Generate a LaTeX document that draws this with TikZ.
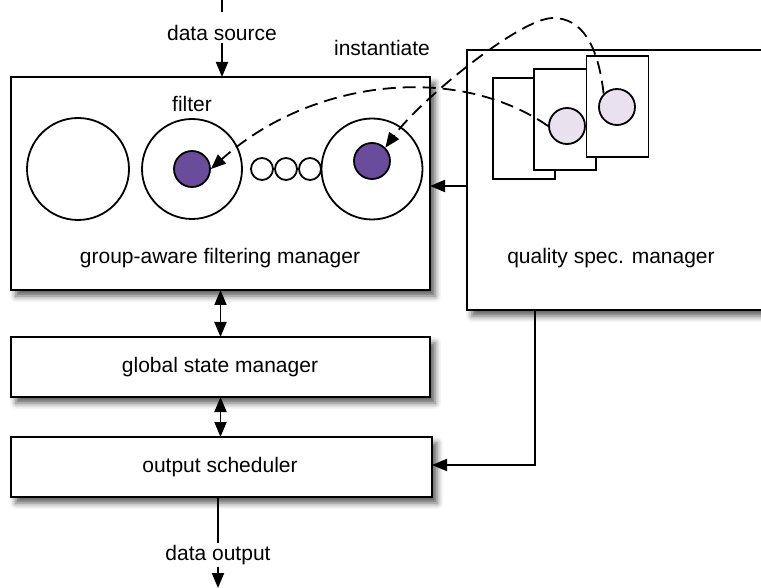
\documentclass[tikz,border=0pt]{standalone}
\usepackage{fontspec}
\setmainfont{Liberation Sans}
\usetikzlibrary{arrows.meta,shadows.blur}
\definecolor{filterpurple}{RGB}{106,76,156}
\definecolor{speclilac}{RGB}{233,225,238}
\begin{document}
\begin{tikzpicture}[x=1pt, y=-1pt, line width=1.8pt,
    every node/.style={font=\fontsize{21}{25}\selectfont},
    box/.style={draw, fill=white, inner sep=0pt, outer sep=0pt,
        blur shadow={shadow xshift=5pt, shadow yshift=-6pt, shadow blur radius=6pt, shadow opacity=65}},
    lbl/.style={inner sep=1pt},
    arr/.style={-{Triangle[length=15pt, width=12pt]}},
    dbl/.style={{Triangle[length=15pt, width=12pt]}-{Triangle[length=15pt, width=12pt]}},
    card/.style={draw, fill=white, inner sep=0pt, minimum width=62pt, minimum height=101pt},
    ring/.style={draw, circle, inner sep=0pt}]
    \useasboundingbox (0, 0) rectangle (761, 588);

    % boxes
    \node[box, minimum width=333pt, minimum height=260pt] (qsm) at (633.5, 180) {};
    \node[box, minimum width=419pt, minimum height=213pt] (gafm) at (220.5, 183.5) {};
    \node[box, minimum width=419pt, minimum height=60pt] (gsm) at (220.5, 367) {};
    \node[box, minimum width=421pt, minimum height=60pt] (sched) at (221.5, 467) {};

    \node (gafmtxt) at (220, 258) {group-aware filtering manager};
    \node (qsmtxt) at (611, 258) {quality spec. manager};
    \node (gsmtxt) at (220, 367) {global state manager};
    \node (schedtxt) at (220, 467) {output scheduler};

    % filters
    \node[ring, minimum size=102pt] (f1) at (78, 169) {};
    \node[ring, minimum size=100pt] (f2) at (192, 169) {};
    \node[ring, minimum size=101pt] (f3) at (372, 169) {};
    \node[ring, fill=filterpurple, minimum size=36pt] (p2) at (192, 169) {};
    \node[ring, fill=filterpurple, minimum size=36pt] (p3) at (372, 161) {};
    \foreach \i/\x in {1/262, 2/286, 3/310}
        \node[ring, minimum size=22pt] (dot\i) at (\x, 169) {};
    \node (filtertxt) at (192, 104) {filter};

    % quality specs
    \node[card] (c1) at (524, 128.5) {};
    \node[card] (c2) at (565, 119.5) {};
    \node[card] (c3) at (617.5, 106.5) {};
    \node[ring, fill=speclilac, minimum size=36pt] (s1) at (567, 126) {};
    \node[ring, fill=speclilac, minimum size=36pt] (s2) at (617, 107) {};
    \node (insttxt) at (382, 48) {instantiate};

    \draw[arr, dash pattern=on 13pt off 7pt] (s1.west) .. controls (455, 62) and (310, 80) .. (p2.east);
    \draw[arr, dash pattern=on 13pt off 7pt] (s2.north west) .. controls (598, 45) and (582, 18) .. (553, 18)
        .. controls (520, 18) and (420, 100) .. (p3.north east);

    % flow
    \node[lbl] (src) at (222, 33) {data source};
    \coordinate (srctop) at (222, 0);
    \draw (srctop) -- ++(0, 12);
    \draw[arr] (src.south) -- (src.south |- gafm.north);
    \draw[dbl] (gafm.south) -- (gsm.north);
    \draw[dbl] (gsm.south) -- (gsm.south |- sched.north);
    \node[lbl] (out) at (218, 555) {data output};
    \draw (sched.south -| out) -- (out.north);
    \coordinate (outend) at (218, 588);
    \draw[arr] (out.south) -- (outend);

    \draw[arr] ([yshift=-6pt]qsm.west) -- ([yshift=-6pt]qsm.west -| gafm.east);
    \coordinate (bend) at (535, 465);
    \draw[arr] (qsm.south -| bend) -- (bend) -- (bend -| sched.east);
\end{tikzpicture}
\end{document}
